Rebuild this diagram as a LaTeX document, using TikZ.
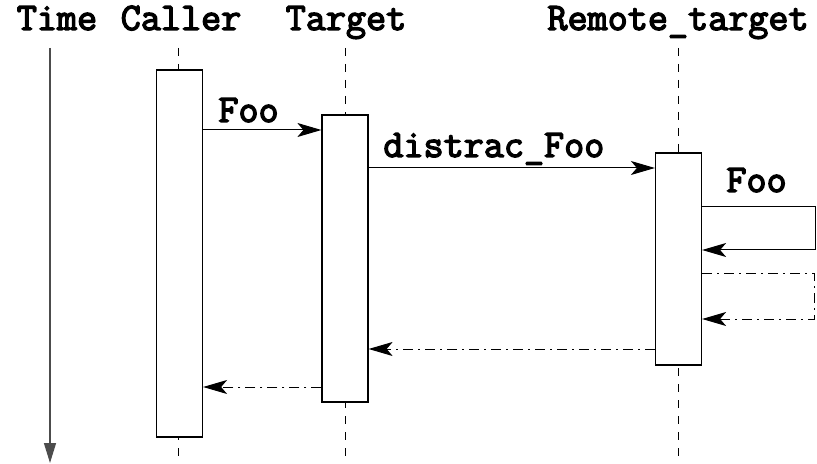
\documentclass[tikz,border=0pt]{standalone}
\usepackage{fontspec}
\newfontfamily\lbltt{Latin Modern Mono}[FakeBold=3.5]
\usetikzlibrary{arrows.meta}

\tikzset{
  lbl/.style={font=\fontsize{19.5}{22}\selectfont\lbltt,inner sep=0pt,anchor=base},
  act/.style={draw,fill=white,line width=.6pt,inner sep=0pt,minimum width=23},
  life/.style={dash pattern=on 4pt off 4pt,line width=.5pt},
  msg/.style={line width=.5pt,-{Stealth[length=12pt,width=7pt,inset=3pt]}},
  ret/.style={msg,dash pattern=on 5pt off 2.5pt on 1pt off 2.5pt}
}

\begin{document}
\begin{tikzpicture}[x=.5pt,y=-.5pt]
\useasboundingbox (0,0) rectangle (817,464);
% titles
\node[lbl] (time) at (57,30) {Time};
\node[lbl] (caller) at (181,30) {Caller};
\node[lbl] (target) at (346,30) {Target};
\node[lbl] (remote) at (678,30) {Remote\_target};
% lifelines
\draw[life] (178,48)--(178,464) (345,48)--(345,464) (678,48)--(678,464);
\draw[line width=.7pt,draw=black!70,-{Triangle[length=10pt,width=6pt]}] (50,48)--(50,463);
% activations
\node[act,minimum height=183.5] (cbox) at (179.5,253.5) {};
\node[act,minimum height=143.5] (tbox) at (345,258.5) {};
\node[act,minimum height=106] (rbox) at (678.5,259) {};
% messages
\draw[msg] (cbox.east |- 0,130) -- (tbox.west |- 0,130);
\node[lbl,anchor=base west] (foo1) at (218,122) {Foo};
\draw[msg] (tbox.east |- 0,168) -- (rbox.west |- 0,168);
\node[lbl,anchor=base west] (dfoo) at (383,157) {distrac\_Foo};
\draw[msg] (rbox.east |- 0,207) -- (815,207) -- (815,250) -- (rbox.east |- 0,250);
\node[lbl,anchor=base west] (foo2) at (726,192) {Foo};
\draw[ret] (rbox.east |- 0,273) -- (814,273) -- (814,319) -- (rbox.east |- 0,319);
\draw[ret] (rbox.west |- 0,349) -- (tbox.east |- 0,349);
\draw[ret] (tbox.west |- 0,387) -- (cbox.east |- 0,387);
\end{tikzpicture}
\end{document}
